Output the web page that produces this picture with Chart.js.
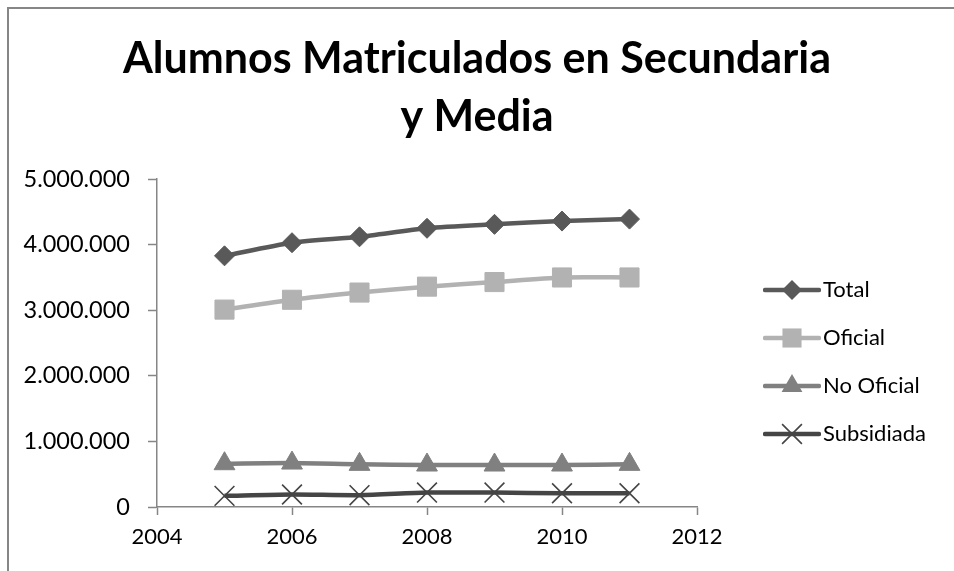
<!DOCTYPE html>
<html>
<head>
<meta charset="utf-8">
<script src="https://cdn.jsdelivr.net/npm/chart.js@4/dist/chart.umd.min.js"></script>
<style>
  html, body { margin: 0; padding: 0; background: #ffffff; overflow: hidden; }
  #wrap { width: 954px; height: 571px; position: relative; }
</style>
</head>
<body>
<div id="wrap"><canvas id="c" width="954" height="571"></canvas></div>
<script>
// ---- data ----
const titleLines = ['Alumnos Matriculados en Secundaria', 'y Media'];
const years = [2005, 2006, 2007, 2008, 2009, 2010, 2011];
const seriesNames = ['Total', 'Oficial', 'No Oficial', 'Subsidiada'];
const total = [3830000, 4030000, 4120000, 4250000, 4310000, 4360000, 4390000];
const oficial = [3010000, 3160000, 3270000, 3360000, 3430000, 3500000, 3500000];
const noOficial = [660000, 670000, 650000, 640000, 640000, 640000, 650000];
const subsidiada = [170000, 190000, 180000, 220000, 220000, 210000, 210000];
const xTicks = [2004, 2006, 2008, 2010, 2012];
const yTicks = [0, 1000000, 2000000, 3000000, 4000000, 5000000];

// ---- styles ----
const FONT = 'Lato, "Open Sans", sans-serif';
const AXIS = '#868686';
const styles = [
  { color: '#595959', point: 'rectRot', radius: 10, width: 4.5, border: 1 },
  { color: '#b2b2b2', point: 'rect', radius: 13.5, width: 4.5, border: 1 },
  { color: '#808080', point: 'triangle', radius: 12, width: 4.5, border: 1 },
  { color: '#454545', point: 'crossRot', radius: 14, width: 4.5, border: 1.6 }
];

function fmt(v) { return String(Math.round(v)).replace(/\B(?=(\d{3})+(?!\d))/g, '.'); }

function legendGlyph(s) {
  const c = document.createElement('canvas');
  c.width = 58; c.height = 26;
  const g = c.getContext('2d');
  g.strokeStyle = s.color; g.fillStyle = s.color;
  g.lineWidth = s.width; g.lineCap = 'round';
  g.beginPath(); g.moveTo(2, 13); g.lineTo(56, 13); g.stroke();
  const cx = 29, cy = 13, r = s.radius;
  g.beginPath();
  if (s.point === 'rectRot') {
    g.moveTo(cx, cy - r); g.lineTo(cx + r, cy); g.lineTo(cx, cy + r); g.lineTo(cx - r, cy); g.closePath(); g.fill();
  } else if (s.point === 'rect') {
    const h = r * Math.SQRT1_2; g.fillRect(cx - h, cy - h, 2 * h, 2 * h);
  } else if (s.point === 'triangle') {
    const a = r * Math.sqrt(3) / 2;
    g.moveTo(cx, cy - r); g.lineTo(cx + a, cy + r / 2); g.lineTo(cx - a, cy + r / 2); g.closePath(); g.fill();
  } else {
    const o = r * Math.SQRT1_2; g.lineWidth = s.border; g.lineCap = 'butt';
    g.moveTo(cx - o, cy - o); g.lineTo(cx + o, cy + o); g.moveTo(cx + o, cy - o); g.lineTo(cx - o, cy + o); g.stroke();
  }
  return c;
}

const allValues = [total, oficial, noOficial, subsidiada];
const datasets = seriesNames.map((name, i) => {
  const s = styles[i];
  return {
    label: name,
    data: years.map((y, k) => ({ x: y, y: allValues[i][k] })),
    borderColor: s.color,
    backgroundColor: s.color,
    borderWidth: s.width,
    pointStyle: s.point,
    pointRadius: s.radius,
    pointHoverRadius: s.radius,
    pointBackgroundColor: s.color,
    pointBorderColor: s.color,
    pointBorderWidth: s.border,
    tension: 0.25,
    fill: false
  };
});
const glyphs = styles.map(legendGlyph);

const framePlugin = {
  id: 'frame',
  beforeDraw(chart) {
    const ctx = chart.ctx;
    ctx.save();
    ctx.fillStyle = '#ffffff';
    ctx.fillRect(0, 0, chart.width, chart.height);
    ctx.strokeStyle = AXIS;
    ctx.lineWidth = 2;
    ctx.beginPath();
    ctx.moveTo(8, chart.height + 10);
    ctx.lineTo(8, 8);
    ctx.lineTo(chart.width + 10, 8);
    ctx.stroke();
    ctx.restore();
  },
  afterLayout(chart) {
    const lg = chart.legend;
    if (lg) { lg.left = 746; lg.right = 954; lg.top = 253; lg.bottom = 571; }
  }
};

new Chart(document.getElementById('c'), {
  type: 'line',
  data: { datasets },
  plugins: [framePlugin],
  options: {
    responsive: false,
    animation: false,
    devicePixelRatio: 1,
    layout: { padding: 0 },
    plugins: {
      title: {
        display: true,
        text: titleLines,
        color: '#000000',
        font: { family: FONT, size: 43, weight: 'bold', lineHeight: 1.35 },
        padding: { top: 30, bottom: 33 }
      },
      legend: {
        position: 'right',
        align: 'start',
        labels: {
          usePointStyle: true,
          pointStyleWidth: 40,
          padding: 26,
          color: '#000000',
          font: { family: FONT, size: 22 },
          generateLabels(chart) {
            return chart.data.datasets.map((d, i) => ({
              text: d.label,
              pointStyle: glyphs[i],
              fillStyle: d.borderColor,
              strokeStyle: d.borderColor,
              lineWidth: 0,
              hidden: false,
              datasetIndex: i,
              fontColor: '#000000'
            }));
          }
        }
      },
      tooltip: { enabled: false }
    },
    scales: {
      x: {
        type: 'linear',
        min: xTicks[0],
        max: xTicks[xTicks.length - 1],
        afterBuildTicks(scale) { scale.ticks = xTicks.map(v => ({ value: v })); },
        afterFit(scale) { scale.height = 64; scale.paddingRight = 257; },
        ticks: { callback: v => String(v), color: '#000000', font: { family: FONT, size: 22 }, padding: 9, maxRotation: 0 },
        grid: { drawOnChartArea: false, drawTicks: true, tickLength: 8, tickColor: AXIS, tickWidth: 1.5 },
        border: { color: AXIS, width: 1.5 }
      },
      y: {
        type: 'linear',
        min: yTicks[0],
        max: yTicks[yTicks.length - 1],
        afterBuildTicks(scale) { scale.ticks = yTicks.map(v => ({ value: v })); },
        afterFit(scale) { scale.width = 157; },
        ticks: { callback: v => fmt(v), color: '#000000', font: { family: FONT, size: 23.5 }, padding: 18 },
        grid: { drawOnChartArea: false, drawTicks: true, tickLength: 9, tickColor: AXIS, tickWidth: 1.5 },
        border: { color: AXIS, width: 1.5 }
      }
    }
  }
});
</script>
</body>
</html>
